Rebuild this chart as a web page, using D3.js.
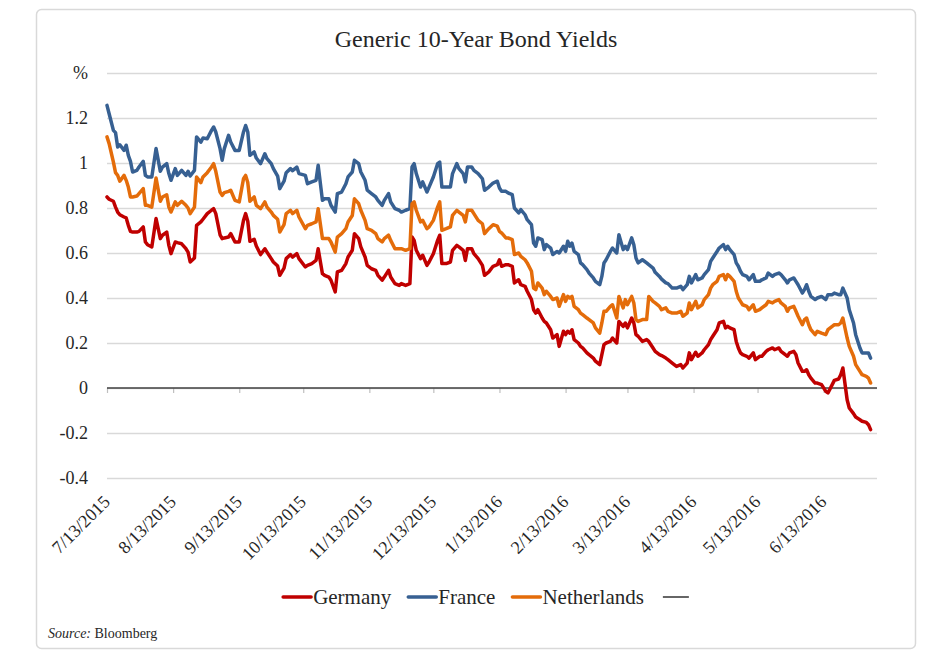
<!DOCTYPE html>
<html>
<head>
<meta charset="utf-8">
<title>Generic 10-Year Bond Yields</title>
<script src="https://cdn.jsdelivr.net/npm/d3@7"></script>
<style>
  body { margin: 0; background: #fff; }
  svg text { font-family: "Liberation Serif", "DejaVu Serif", serif !important; fill: #262626; }
</style>
</head>
<body>
<div id="chart"></div>
<script>
const dates = [
  "2015-07-13","2015-07-14","2015-07-16","2015-07-17","2015-07-18","2015-07-19","2015-07-21","2015-07-22","2015-07-23","2015-07-24",
  "2015-07-25","2015-07-27","2015-07-28","2015-07-30","2015-07-31","2015-08-01","2015-08-03","2015-08-05","2015-08-07","2015-08-08",
  "2015-08-10","2015-08-11","2015-08-12","2015-08-14","2015-08-15","2015-08-17","2015-08-19","2015-08-20","2015-08-21","2015-08-23",
  "2015-08-24","2015-08-26","2015-08-27","2015-08-29","2015-08-31","2015-09-01","2015-09-02","2015-09-04","2015-09-05","2015-09-06",
  "2015-09-08","2015-09-09","2015-09-11","2015-09-13","2015-09-15","2015-09-16","2015-09-17","2015-09-18","2015-09-20","2015-09-21",
  "2015-09-23","2015-09-25","2015-09-26","2015-09-28","2015-09-29","2015-10-01","2015-10-02","2015-10-04","2015-10-05","2015-10-07",
  "2015-10-08","2015-10-10","2015-10-11",
  "2015-10-14","2015-10-15","2015-10-17","2015-10-19","2015-10-20","2015-10-22","2015-10-23","2015-10-25","2015-10-26","2015-10-28",
  "2015-10-29","2015-10-31","2015-11-02","2015-11-03","2015-11-05","2015-11-06","2015-11-08","2015-11-09","2015-11-11","2015-11-12",
  "2015-11-14","2015-11-16","2015-11-17","2015-11-19","2015-11-20","2015-11-22","2015-11-23","2015-11-25","2015-11-27","2015-11-28",
  "2015-11-30","2015-12-02","2015-12-03","2015-12-04","2015-12-05","2015-12-07","2015-12-08","2015-12-10","2015-12-11","2015-12-13",
  "2015-12-15","2015-12-16","2015-12-17","2015-12-19","2015-12-21","2015-12-22","2015-12-24","2015-12-25","2015-12-27","2015-12-28",
  "2015-12-29","2015-12-31","2016-01-01","2016-01-03","2016-01-05","2016-01-06","2016-01-08",
  "2016-01-10","2016-01-12","2016-01-13","2016-01-14","2016-01-16","2016-01-17","2016-01-19","2016-01-20","2016-01-22","2016-01-23",
  "2016-01-25","2016-01-26","2016-01-28","2016-01-29","2016-01-30","2016-01-31","2016-02-02","2016-02-03","2016-02-04","2016-02-06",
  "2016-02-07","2016-02-09","2016-02-10","2016-02-12","2016-02-13","2016-02-14","2016-02-15","2016-02-16","2016-02-17","2016-02-19",
  "2016-02-20","2016-02-21","2016-02-23","2016-02-24","2016-02-26","2016-02-27","2016-02-29","2016-03-01","2016-03-02","2016-03-03",
  "2016-03-05","2016-03-06","2016-03-08","2016-03-09","2016-03-11","2016-03-12","2016-03-13","2016-03-15","2016-03-16","2016-03-17",
  "2016-03-18","2016-03-20","2016-03-22","2016-03-23","2016-03-25","2016-03-26","2016-03-28","2016-03-29","2016-03-31","2016-04-01",
  "2016-04-03","2016-04-05","2016-04-07",
  "2016-04-08","2016-04-10","2016-04-11","2016-04-12","2016-04-14","2016-04-15","2016-04-17","2016-04-18","2016-04-20","2016-04-21",
  "2016-04-22","2016-04-24","2016-04-25","2016-04-27","2016-04-28","2016-04-29","2016-04-30","2016-05-02","2016-05-03","2016-05-04",
  "2016-05-05","2016-05-06","2016-05-08","2016-05-09","2016-05-11","2016-05-12","2016-05-14","2016-05-15","2016-05-17","2016-05-18",
  "2016-05-20","2016-05-21","2016-05-23","2016-05-24","2016-05-26","2016-05-27","2016-05-28","2016-05-30","2016-05-31","2016-06-01",
  "2016-06-03","2016-06-04","2016-06-05","2016-06-06","2016-06-07","2016-06-09","2016-06-10","2016-06-12","2016-06-14","2016-06-15",
  "2016-06-17","2016-06-18","2016-06-20","2016-06-21","2016-06-22","2016-06-24","2016-06-25","2016-06-27","2016-06-28","2016-06-30",
  "2016-07-01","2016-07-03","2016-07-04","2016-07-05"
];

const germany = [
  0.849,0.839,0.830,0.804,0.782,0.770,0.760,0.756,0.723,0.696, 0.693,0.693,0.696,0.716,0.649,0.637,0.627,0.753,0.664,0.679,
  0.693,0.634,0.597,0.649,0.646,0.641,0.619,0.604,0.560,0.578, 0.723,0.738,0.750,0.775,0.790,0.797,0.775,0.681,0.664,0.667,
  0.671,0.686,0.649,0.649,0.745,0.775,0.741,0.652,0.661,0.631, 0.593,0.619,0.604,0.575,0.560,0.542,0.501,0.533,0.575,0.593,
  0.582,0.597,0.575,
  0.538,0.545,0.553,0.567,0.619,0.508,0.501,0.493,0.479,0.427, 0.516,0.523,0.553,0.582,0.612,0.686,0.664,0.627,0.582,0.545,
  0.530,0.523,0.501,0.479,0.493,0.523,0.493,0.464,0.456,0.464, 0.456,0.464,0.671,0.656,0.612,0.575,0.590,0.545,0.560,0.597,
  0.656,0.679,0.553,0.553,0.560,0.612,0.634,0.627,0.612,0.567, 0.619,0.619,0.597,0.575,0.545,0.501,0.516,
  0.541,0.548,0.570,0.541,0.548,0.548,0.541,0.467,0.481,0.459, 0.452,0.430,0.393,0.348,0.333,0.348,0.311,0.296,0.289,0.259,
  0.222,0.237,0.185,0.252,0.237,0.252,0.244,0.259,0.215,0.200, 0.185,0.178,0.156,0.148,0.133,0.119,0.104,0.148,0.193,0.200,
  0.207,0.222,0.200,0.296,0.274,0.289,0.267,0.311,0.289,0.237, 0.230,0.207,0.215,0.207,0.178,0.163,0.148,0.144,0.133,0.126,
  0.111,0.096,0.104,
  0.089,0.111,0.156,0.126,0.159,0.141,0.156,0.170,0.193,0.215, 0.230,0.259,0.289,0.296,0.267,0.274,0.267,0.259,0.207,0.178,
  0.156,0.148,0.141,0.133,0.156,0.126,0.141,0.141,0.163,0.170, 0.178,0.170,0.178,0.163,0.148,0.141,0.156,0.163,0.148,0.111,
  0.074,0.074,0.081,0.059,0.044,0.022,0.022,0.015,-0.015,-0.022, 0.015,0.034,0.040,0.059,0.089,-0.052,-0.089,-0.114,-0.129,-0.141,
  -0.148,-0.153,-0.163,-0.185
];

const france = [
  1.256,1.219,1.145,1.135,1.071,1.081,1.056,1.079,1.034,1.007, 0.960,0.967,0.982,1.007,0.945,0.938,0.938,1.064,0.963,0.982,
  0.997,0.953,0.923,0.975,0.945,0.967,0.945,0.963,0.942,0.967, 1.116,1.093,1.111,1.108,1.145,1.160,1.138,1.064,1.012,1.064,
  1.123,1.093,1.056,1.056,1.138,1.167,1.138,1.034,1.049,1.022, 0.997,1.041,1.019,0.997,0.975,0.942,0.886,0.919,0.957,0.975,
  0.966,0.982,0.953,
  0.945,0.908,0.916,0.923,0.990,0.834,0.841,0.841,0.812,0.782, 0.864,0.871,0.908,0.938,0.960,1.012,0.997,0.960,0.923,0.879,
  0.864,0.849,0.834,0.812,0.834,0.864,0.827,0.797,0.790,0.782, 0.790,0.797,0.982,0.997,0.953,0.893,0.916,0.871,0.893,0.938,
  0.997,1.004,0.893,0.893,0.893,0.953,0.997,0.975,0.953,0.916, 0.982,0.982,0.967,0.953,0.930,0.879,0.893,
  0.911,0.919,0.889,0.874,0.874,0.867,0.859,0.800,0.778,0.793, 0.770,0.748,0.726,0.644,0.630,0.667,0.659,0.615,0.637,0.622,
  0.593,0.607,0.600,0.630,0.607,0.652,0.630,0.644,0.607,0.593, 0.556,0.548,0.526,0.511,0.489,0.474,0.459,0.496,0.556,0.570,
  0.607,0.622,0.600,0.681,0.615,0.630,0.615,0.667,0.637,0.578, 0.556,0.570,0.556,0.548,0.533,0.514,0.496,0.484,0.467,0.464,
  0.444,0.444,0.452,
  0.437,0.459,0.496,0.467,0.504,0.481,0.489,0.504,0.526,0.563, 0.578,0.607,0.622,0.637,0.615,0.630,0.615,0.593,0.556,0.541,
  0.519,0.504,0.496,0.481,0.504,0.474,0.474,0.481,0.489,0.511, 0.496,0.504,0.511,0.504,0.481,0.467,0.481,0.489,0.474,0.459,
  0.422,0.437,0.459,0.430,0.407,0.393,0.400,0.407,0.393,0.415, 0.415,0.422,0.415,0.415,0.444,0.400,0.348,0.289,0.237,0.178,
  0.156,0.156,0.156,0.133
];

const netherlands = [
  1.116,1.086,1.004,0.957,0.945,0.919,0.945,0.923,0.893,0.849, 0.849,0.853,0.864,0.886,0.812,0.812,0.804,0.933,0.830,0.849,
  0.859,0.804,0.782,0.827,0.812,0.830,0.812,0.800,0.775,0.804, 0.938,0.913,0.938,0.957,0.982,0.997,0.963,0.871,0.856,0.868,
  0.874,0.879,0.834,0.827,0.930,0.945,0.913,0.830,0.849,0.812, 0.797,0.827,0.804,0.782,0.767,0.750,0.693,0.726,0.775,0.790,
  0.775,0.790,0.760,
  0.708,0.723,0.730,0.738,0.797,0.664,0.664,0.664,0.649,0.604, 0.671,0.686,0.708,0.738,0.767,0.841,0.819,0.790,0.745,0.708,
  0.701,0.686,0.664,0.649,0.664,0.679,0.656,0.619,0.619,0.619, 0.612,0.619,0.819,0.827,0.790,0.738,0.745,0.708,0.716,0.745,
  0.804,0.827,0.701,0.708,0.716,0.767,0.790,0.782,0.767,0.738, 0.790,0.790,0.775,0.745,0.730,0.686,0.708,
  0.726,0.719,0.696,0.689,0.667,0.667,0.659,0.593,0.600,0.585, 0.570,0.556,0.519,0.444,0.437,0.467,0.444,0.415,0.430,0.407,
  0.393,0.400,0.363,0.415,0.385,0.407,0.400,0.407,0.363,0.348, 0.333,0.326,0.311,0.304,0.289,0.267,0.244,0.289,0.341,0.341,
  0.363,0.370,0.311,0.407,0.356,0.393,0.370,0.407,0.378,0.304, 0.296,0.304,0.304,0.407,0.385,0.378,0.363,0.348,0.356,0.341,
  0.333,0.333,0.341,
  0.319,0.333,0.378,0.348,0.385,0.356,0.370,0.393,0.415,0.444, 0.459,0.474,0.496,0.504,0.481,0.504,0.496,0.474,0.430,0.400,
  0.385,0.370,0.363,0.348,0.370,0.341,0.348,0.356,0.370,0.385, 0.378,0.385,0.393,0.378,0.363,0.341,0.356,0.363,0.341,0.319,
  0.281,0.304,0.311,0.281,0.259,0.237,0.252,0.244,0.237,0.259, 0.274,0.281,0.281,0.289,0.311,0.222,0.185,0.141,0.104,0.074,
  0.059,0.052,0.044,0.022
];

const seriesNames = ["Germany", "France", "Netherlands"];
const seriesColors = ["#c00000", "#376092", "#e46c0a"];
const yTicks = [-0.4, -0.2, 0, 0.2, 0.4, 0.6, 0.8, 1, 1.2, 1.4];
const monthTicks = ["2015-07-13","2015-08-13","2015-09-13","2015-10-13","2015-11-13","2015-12-13",
                    "2016-01-13","2016-02-13","2016-03-13","2016-04-13","2016-05-13","2016-06-13"];

const width = 949, height = 661;
const plot = { left: 107, right: 877, top: 73, bottom: 478 };
const serif = '"Liberation Serif", "DejaVu Serif", serif';
const parse = d3.timeParse("%Y-%m-%d");
const tickLabel = d3.timeFormat("%-m/%-d/%Y");

const svg = d3.select("#chart").append("svg")
    .attr("width", width)
    .attr("height", height)
    .attr("font-family", serif);

// rounded frame around the whole chart
svg.append("rect")
    .attr("x", 36.5).attr("y", 9.5)
    .attr("width", 879).attr("height", 639)
    .attr("rx", 5)
    .attr("fill", "#fff")
    .attr("stroke", "#d9d9d9")
    .attr("stroke-width", 1.5);

svg.append("text")
    .attr("x", 476).attr("y", 47)
    .attr("text-anchor", "middle")
    .style("font-size", "24px")
    .text("Generic 10-Year Bond Yields");

const x = d3.scaleTime()
    .domain([parse("2015-07-13"), parse("2016-07-08")])
    .range([plot.left, plot.right]);
const y = d3.scaleLinear()
    .domain([-0.4, 1.4])
    .range([plot.bottom, plot.top]);

// y axis with gridlines, top tick shows the unit
svg.append("g")
    .attr("transform", `translate(${plot.left},0)`)
    .call(d3.axisLeft(y)
        .tickValues(yTicks)
        .tickSize(-(plot.right - plot.left))
        .tickPadding(19)
        .tickFormat(v => v === 1.4 ? "%" : String(+v.toFixed(1))))
    .attr("font-family", serif)
    .call(g => g.select(".domain").remove())
    .call(g => g.selectAll(".tick line").attr("stroke", "#d9d9d9").attr("stroke-width", 1.5))
    .call(g => g.selectAll(".tick text").style("font-size", "18px").attr("fill", "#262626"));

// month ticks hanging below the zero line
svg.append("g")
    .attr("transform", `translate(0,${y(0)})`)
    .call(d3.axisBottom(x).tickValues(monthTicks.map(parse)).tickSize(5).tickFormat(""))
    .call(g => g.select(".domain").remove())
    .call(g => g.selectAll(".tick line").attr("stroke", "#bfbfbf").attr("stroke-width", 1.2));

// zero line
svg.append("line")
    .attr("x1", plot.left).attr("x2", plot.right)
    .attr("y1", y(0)).attr("y2", y(0))
    .attr("stroke", "#404040")
    .attr("stroke-width", 1.6);

// rotated date labels below the plot
svg.append("g").selectAll("text")
    .data(monthTicks.map(parse))
    .join("text")
    .attr("transform", d => `translate(${x(d) + 4},${plot.bottom + 25}) rotate(-45)`)
    .attr("text-anchor", "end")
    .style("font-size", "18px")
    .text(tickLabel);

// series lines
const allValues = [germany, france, netherlands];
const line = d3.line()
    .x(d => x(d.date))
    .y(d => y(d.value));

allValues.forEach((values, i) => {
    const points = dates.map((dt, j) => ({ date: parse(dt), value: values[j] }));
    svg.append("path")
        .datum(points)
        .attr("fill", "none")
        .attr("stroke", seriesColors[i])
        .attr("stroke-width", 3.5)
        .attr("stroke-linejoin", "round")
        .attr("stroke-linecap", "round")
        .attr("d", line);
});

// legend, laid out left to right then centred
const legend = svg.append("g");
let cursor = 0;
seriesNames.forEach((name, i) => {
    legend.append("line")
        .attr("x1", cursor).attr("x2", cursor + 28)
        .attr("y1", 0).attr("y2", 0)
        .attr("stroke", seriesColors[i])
        .attr("stroke-width", 3.5)
        .attr("stroke-linecap", "round");
    const t = legend.append("text")
        .attr("x", cursor + 30).attr("y", 0)
        .attr("dy", "0.33em")
        .style("font-size", "21px")
        .text(name);
    cursor += 30 + t.node().getComputedTextLength() + 17;
});
legend.append("line")
    .attr("x1", cursor + 2).attr("x2", cursor + 28)
    .attr("y1", 0).attr("y2", 0)
    .attr("stroke", "#404040")
    .attr("stroke-width", 1.6);
cursor += 28;
legend.attr("transform", `translate(${486 - cursor / 2},597)`);

// source note
const source = svg.append("text")
    .attr("x", 48).attr("y", 638)
    .style("font-size", "14px");
source.append("tspan").style("font-style", "italic").text("Source:");
source.append("tspan").text(" Bloomberg");
</script>
</body>
</html>
